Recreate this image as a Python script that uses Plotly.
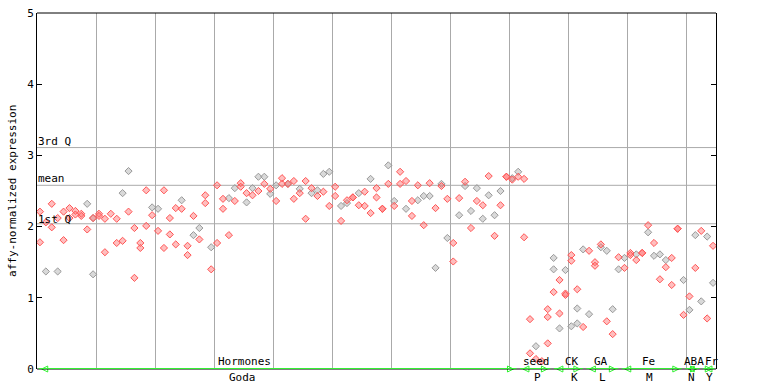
import plotly.graph_objects as go

# ---- data -------------------------------------------------------------
# each sample slot k sits at x = 2k+1 on a 0..230 axis
red_slot = [0,0,1,2,2,3,4,4,5,5,6,6,7,7,8,9,10,10,11,11,12,13,13,14,15,16,16,17,17,18,18,19,20,21,21,22,22,23,23,24,25,25,26,27,28,28,29,30,30,31,31,32,33,34,34,35,36,37,38,39,40,41,41,42,43,43,44,45,45,46,47,48,49,50,50,51,52,53,53,54,55,55,56,57,57,58,58,59,60,61,61,62,63,63,64,65,66,67,68,69,70,70,71,72,73,74,75,76,77,78,79,79,80,81,82,82,83,83,84,85,86,86,86,87,88,88,89,89,90,90,91,92,93,94,94,95,96,97,98,99,100,100,101,102,102,103,104,105,106,107,107,108,108,109,110,111,112,113,114]
red_expr = [2.21,1.78,2.06,2.32,1.99,2.12,2.21,1.81,2.26,2.12,2.22,2.17,2.18,2.15,1.96,2.12,2.18,2.15,2.11,1.64,2.18,2.11,1.77,1.80,2.21,1.98,1.28,1.77,1.70,2.51,2.01,2.16,1.94,2.51,1.70,2.12,1.89,2.26,1.75,2.25,1.73,1.60,2.15,1.82,2.44,2.33,1.40,2.58,1.77,2.39,2.25,1.88,2.36,2.61,2.56,2.47,2.44,2.50,2.60,2.53,2.36,2.68,2.60,2.60,2.64,2.39,2.47,2.64,2.11,2.54,2.43,2.49,2.29,2.56,2.43,2.08,2.37,2.41,2.41,2.30,2.49,2.29,2.19,2.54,2.41,2.25,2.25,2.60,2.29,2.77,2.60,2.64,2.36,2.15,2.58,2.02,2.61,2.26,2.57,2.39,1.77,1.51,2.40,2.63,1.98,2.36,2.30,2.71,1.87,2.30,2.70,2.70,2.66,2.70,2.67,1.85,0.70,0.22,0.14,0.11,0.84,0.73,0.36,1.08,1.25,0.78,1.06,1.04,1.60,1.52,1.12,0.59,1.66,1.50,1.45,1.75,0.67,0.49,1.57,1.42,1.63,1.60,1.53,1.63,1.63,2.02,1.77,1.26,1.43,1.56,1.18,1.97,1.97,0.76,1.02,1.42,1.94,0.71,1.73]

gray_slot = [1,3,8,9,9,14,15,19,20,24,26,27,29,32,33,35,36,37,38,39,40,42,44,46,47,48,49,51,52,54,56,59,60,62,64,65,66,67,68,69,71,72,73,74,75,76,77,78,80,81,84,87,87,88,89,90,91,91,92,93,95,96,97,98,99,101,103,104,105,106,109,110,111,112,113,114]
gray_expr = [1.37,1.37,2.32,2.12,1.33,2.47,2.78,2.27,2.25,2.37,1.88,1.98,1.71,2.40,2.54,2.34,2.54,2.70,2.70,2.46,2.58,2.60,2.53,2.47,2.51,2.74,2.77,2.29,2.33,2.47,2.67,2.86,2.36,2.25,2.37,2.43,2.43,1.42,2.60,1.84,2.16,2.57,2.22,2.54,2.11,2.44,2.16,2.50,2.68,2.77,0.32,1.56,1.40,0.57,1.39,0.60,0.85,0.64,1.68,0.77,1.71,1.66,0.84,1.40,1.56,1.61,1.92,1.59,1.61,1.53,1.25,0.83,1.88,0.95,1.86,1.21]

# quartile statistics of the whole series
stat_names = ["3rd Q", "mean", "1st Q"]
stat_values = [3.11, 2.58, 2.04]

# experiment groups along the x axis (start, end on 0..230 axis)
group_names = ["Hormones", "seed", "CK", "GA", "Fe", "ABA", "Fr"]
source_names = ["Goda", "P", "K", "L", "M", "N", "Y"]
group_start = [0, 163, 174.5, 185.5, 197.5, 219, 225]
group_end = [163, 174.5, 185.5, 197.5, 219, 225, 230]
group_label_x = [70.3, 169.3, 181.2, 191.0, 207.0, 222.4, 228.8]
source_label_x = [69.7, 169.7, 181.9, 191.7, 207.6, 221.8, 227.8]

y_ticks = [0, 1, 2, 3, 4, 5]

# ---- figure -----------------------------------------------------------
FONT = "DejaVu Sans Mono"
GREEN = "#33f033"
fig = go.Figure()

fig.add_trace(go.Scatter(
    x=[2 * k + 1 for k in gray_slot], y=gray_expr, mode="markers",
    marker=dict(symbol="diamond", size=5.5, color="rgba(170,170,170,0.45)",
                line=dict(color="#999999", width=1)),
    hoverinfo="skip", showlegend=False))
fig.add_trace(go.Scatter(
    x=[2 * k + 1 for k in red_slot], y=red_expr, mode="markers",
    marker=dict(symbol="diamond", size=5.5, color="rgba(255,110,110,0.45)",
                line=dict(color="#ff5555", width=1)),
    hoverinfo="skip", showlegend=False))

shapes = []
annotations = []
# quartile lines
label_shift = [6, 7, 4]
for name, val, sh in zip(stat_names, stat_values, label_shift):
    shapes.append(dict(type="line", xref="paper", x0=0, x1=1, yref="y", y0=val, y1=val,
                       line=dict(color="#aaaaaa", width=1), layer="below"))
    annotations.append(dict(xref="paper", x=0, yref="y", y=val, text=name, showarrow=False,
                            xanchor="left", yanchor="middle", yshift=sh, xshift=-1,
                            font=dict(family=FONT, size=11, color="black")))

# top and bottom frame lines
for yp in (0, 1):
    shapes.append(dict(type="line", xref="paper", x0=0, x1=1, yref="paper", y0=yp, y1=yp,
                       line=dict(color="black", width=1), layer="above"))

# group bars
for gs, ge in zip(group_start, group_end):
    shapes.append(dict(type="line", xref="x", x0=gs + 0.6, x1=ge - 0.6, yref="y", y0=0, y1=0,
                       line=dict(color=GREEN, width=2), layer="above"))
arrow_x = []
arrow_sym = []
for gs, ge in zip(group_start, group_end):
    arrow_x += [gs + 1.6, ge - 1.6]
    arrow_sym += ["arrow-left-open", "arrow-right-open"]
fig.add_trace(go.Scatter(
    x=arrow_x, y=[0] * len(arrow_x), mode="markers", cliponaxis=False,
    marker=dict(symbol=arrow_sym, size=6, color=GREEN, line=dict(color=GREEN, width=1)),
    hoverinfo="skip", showlegend=False))

for name, lx in zip(group_names, group_label_x):
    annotations.append(dict(xref="x", x=lx, yref="y", y=0, text=name, showarrow=False,
                            xanchor="center", yanchor="bottom", yshift=-1,
                            font=dict(family=FONT, size=11, color="black")))
for name, lx in zip(source_names, source_label_x):
    annotations.append(dict(xref="x", x=lx, yref="y", y=0, text=name, showarrow=False,
                            xanchor="center", yanchor="top", yshift=0,
                            font=dict(family=FONT, size=11, color="black")))

annotations.append(dict(xref="paper", x=-0.037, yref="paper", y=0.5,
                        text="affy-normalized expression", textangle=-90, showarrow=False,
                        xanchor="center", yanchor="middle",
                        font=dict(family=FONT, size=11, color="black")))

fig.update_layout(
    template="none",
    width=768, height=384,
    margin=dict(l=37, r=52, t=13, b=15, autoexpand=False),
    paper_bgcolor="white", plot_bgcolor="white",
    shapes=shapes, annotations=annotations,
    xaxis=dict(range=[0, 230], tick0=0, dtick=20, showgrid=True, gridcolor="#aaaaaa",
               gridwidth=1, showticklabels=False, ticks="", zeroline=False, automargin=False,
               showline=False, fixedrange=True),
    yaxis=dict(range=[0, 5], tickvals=y_ticks, ticks="inside", ticklen=5, tickcolor="black",
               showgrid=False, zeroline=False, showline=True, linecolor="black", linewidth=1,
               automargin=False, mirror="ticks",
               tickfont=dict(family=FONT, size=11, color="black"), fixedrange=True),
)

fig.write_html("out.html", config={"displayModeBar": False},
               post_script="document.body.style.margin='0';document.body.style.overflow='hidden';")
